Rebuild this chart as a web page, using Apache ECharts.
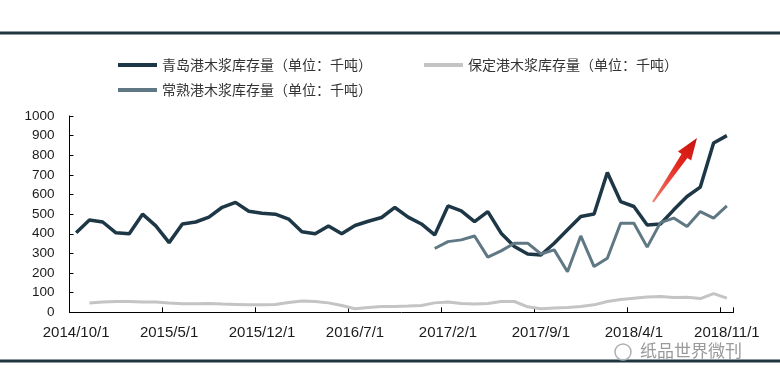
<!DOCTYPE html>
<html>
<head>
<meta charset="utf-8">
<style>
html,body{margin:0;padding:0;background:#fff;}
#c{width:780px;height:386px;}
</style>
<script src="https://cdn.jsdelivr.net/npm/echarts@6/dist/echarts.min.js"></script>
</head>
<body>
<div id="c"></div>
<script>
// Months 2014/10 .. 2018/11
var categories = [];
(function(){
  var y = 2014, m = 10;
  for (var i = 0; i < 50; i++) {
    categories.push(y + '/' + m + '/1');
    m++; if (m > 12) { m = 1; y++; }
  }
})();

var qingdao = [405,470,460,405,400,500,440,355,450,460,
               485,535,560,515,505,500,475,410,400,440,
               400,442,464,483,534,485,450,394,542,517,
               462,513,403,335,297,292,352,420,488,501,
               712,564,539,445,450,522,590,638,862,900];

var baoding = [null,47,52,55,55,53,52,47,43,43,
               45,42,40,38,38,40,50,58,55,48,
               35,18,25,30,30,32,35,48,52,45,
               42,45,55,55,28,18,22,25,30,38,
               55,65,72,78,80,75,77,70,95,72];

var changshu = [null,null,null,null,null,null,null,null,null,null,
                null,null,null,null,null,null,null,null,null,null,
                null,null,null,null,null,null,null,325,360,369,
                389,281,313,352,352,297,318,207,389,233,
                275,454,454,332,457,480,437,513,480,542];

var yTicks = {min: 0, max: 1000, interval: 100};

var names = ['青岛港木浆库存量（单位：千吨）', '保定港木浆库存量（单位：千吨）', '常熟港木浆库存量（单位：千吨）'];

var chart = echarts.init(document.getElementById('c'), null, {renderer: 'canvas'});
var legendText = {fontFamily: 'Noto Sans CJK SC', fontSize: 14, color: '#333'};
chart.setOption({
  animation: false,
  backgroundColor: '#ffffff',
  grid: {left: 69.5, right: 46.5, top: 116, bottom: 73.7, containLabel: false},
  legend: [
    {data: [names[0], names[1]], left: 113, top: 53, orient: 'horizontal', icon: 'rect',
     itemWidth: 39, itemHeight: 4, itemGap: 52, textStyle: legendText},
    {data: [names[2]], left: 113, top: 78, orient: 'horizontal', icon: 'rect',
     itemWidth: 39, itemHeight: 4, textStyle: legendText}
  ],
  xAxis: {
    type: 'category', data: categories, boundaryGap: true,
    axisLine: {lineStyle: {color: '#000', width: 1}},
    axisTick: {show: true, inside: true, length: 5, interval: 6, lineStyle: {color: '#000'}},
    axisLabel: {interval: 6, margin: 13, color: '#1a1a1a', fontFamily: 'Liberation Sans', fontSize: 15},
    splitLine: {show: false}
  },
  yAxis: {
    type: 'value', min: yTicks.min, max: yTicks.max, interval: yTicks.interval,
    axisLine: {show: true, lineStyle: {color: '#000', width: 1}},
    axisTick: {show: true, inside: true, length: 4, lineStyle: {color: '#000'}},
    axisLabel: {margin: 15, color: '#1a1a1a', fontFamily: 'Liberation Sans', fontSize: 13.5,
                formatter: function (v) { return String(v); }},
    splitLine: {show: false}
  },
  series: [
    {name: names[0], type: 'line', data: qingdao, showSymbol: false, symbol: 'none', z: 3,
     color: '#1e3746', lineStyle: {width: 3.5, color: '#1e3746'}},
    {name: names[1], type: 'line', data: baoding, showSymbol: false, symbol: 'none', z: 2,
     color: '#c4c4c4', lineStyle: {width: 3, color: '#c4c4c4'}},
    {name: names[2], type: 'line', data: changshu, showSymbol: false, symbol: 'none', z: 4,
     color: '#5f7883', lineStyle: {width: 3, color: '#5f7883'}}
  ],
  graphic: [
    {type: 'rect', shape: {x: 0, y: 31.5, width: 780, height: 3}, style: {fill: '#1f3540'}, silent: true},
    {type: 'rect', shape: {x: 0, y: 359.5, width: 780, height: 3}, style: {fill: '#1f3540'}, silent: true},
    {type: 'polygon', silent: true,
     shape: {points: [[652.2,201.4],[681.6,154.1],[677.9,151.6],[697,138],[691.1,160.6],[687.4,158.1],[653.8,202.6]]},
     style: {fill: new echarts.graphic.LinearGradient(0, 1, 1, 0, [
        {offset: 0, color: '#f08070'}, {offset: 0.6, color: '#e3261c'}, {offset: 1, color: '#c8140f'}])}},
    {type: 'text', left: 640, top: 342, silent: true,
     style: {text: '纸品世界微刊', fontFamily: 'Noto Sans CJK SC', fontSize: 17, fill: '#9a9a9a'}},
    {type: 'circle', shape: {cx: 623, cy: 352, r: 8}, silent: true,
     style: {fill: 'none', stroke: '#b0b0b0', lineWidth: 1.5}}
  ]
});
</script>
</body>
</html>
